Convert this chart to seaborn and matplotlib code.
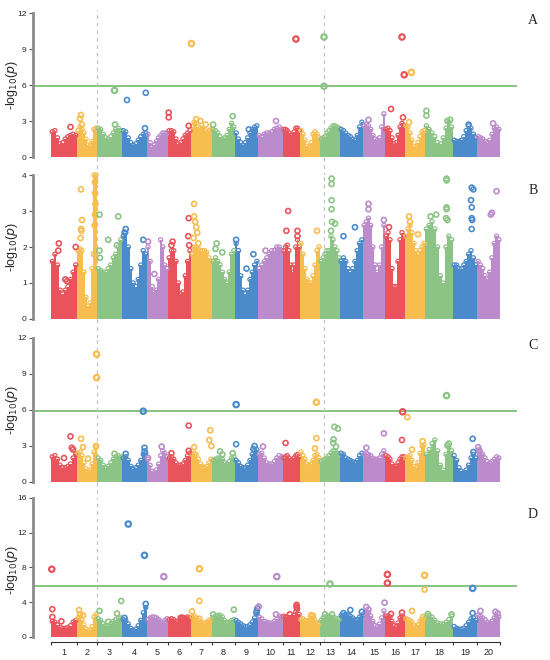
import numpy as np
import pandas as pd
import seaborn as sns
import matplotlib.pyplot as plt

sns.set_style('white')
plt.rcParams['font.family'] = ['Liberation Sans', 'DejaVu Sans']

# chromosome layout (relative lengths)
chroms = list(range(1, 21))
chrom_len = [26, 20, 25, 25, 21, 23, 21, 23, 23, 25, 17, 20, 20, 23, 22, 20, 20, 28, 24, 23]
colors5 = ['#e9545c', '#f7bd4f', '#8cc485', '#4c8bcb', '#bb8bcb']
threshold = 5.9
dashed_pos = [46.3, 273.3]

# top of the dense SNP cloud, 10 bins per chromosome
a_env = [
    [2.1, 2.2, 1.6, 1.1, 1.2, 1.5, 1.7, 1.8, 1.9, 1.8],
    [2.2, 2.5, 2.3, 2.0, 1.5, 1.0, 0.9, 1.3, 2.3, 2.4],
    [2.4, 2.3, 1.9, 1.6, 1.5, 1.7, 2.0, 2.3, 2.4, 2.2],
    [2.2, 2.1, 1.6, 1.2, 1.0, 1.1, 1.4, 1.7, 1.9, 2.0],
    [1.9, 1.2, 0.8, 1.0, 1.3, 1.6, 1.8, 2.0, 2.0, 2.0],
    [2.2, 2.2, 2.1, 1.5, 1.1, 1.2, 1.5, 1.8, 2.0, 2.2],
    [2.5, 2.9, 2.8, 2.5, 2.4, 2.3, 2.2, 2.0, 2.2, 2.3],
    [2.3, 2.2, 2.0, 1.7, 1.5, 1.6, 1.8, 2.3, 2.8, 2.5],
    [2.0, 1.5, 1.2, 1.0, 1.2, 1.6, 2.0, 2.3, 2.5, 2.6],
    [1.8, 1.7, 1.9, 2.0, 2.0, 2.1, 2.3, 2.4, 2.5, 2.3],
    [2.3, 2.3, 2.2, 2.0, 1.8, 1.8, 2.1, 2.4, 2.4, 2.2],
    [2.2, 1.9, 1.4, 0.9, 0.8, 1.2, 1.9, 2.1, 1.9, 1.6],
    [1.5, 1.6, 1.7, 2.0, 2.2, 2.4, 2.6, 2.6, 2.5, 2.4],
    [2.3, 2.2, 2.0, 1.8, 1.7, 1.5, 1.4, 1.8, 2.5, 2.9],
    [2.6, 2.7, 2.6, 2.3, 1.8, 1.5, 1.4, 1.6, 2.5, 3.6],
    [2.3, 2.4, 2.2, 1.6, 1.1, 1.2, 1.8, 2.5, 2.8, 2.6],
    [2.6, 2.5, 2.0, 1.4, 0.9, 0.8, 1.2, 1.7, 2.1, 2.2],
    [2.6, 2.3, 2.0, 1.7, 1.2, 1.1, 1.6, 2.4, 2.9, 2.5],
    [1.4, 1.3, 1.3, 1.4, 1.7, 2.2, 2.6, 2.4, 1.9, 1.6],
    [1.7, 1.6, 1.5, 1.3, 1.2, 1.4, 1.9, 2.4, 2.5, 2.3],
]
b_env = [
    [1.6, 1.8, 1.5, 0.8, 0.7, 0.8, 0.9, 1.1, 1.3, 1.5],
    [1.9, 1.95, 1.9, 1.3, 0.6, 0.35, 0.45, 1.4, 4.0, 4.0],
    [1.4, 1.35, 1.3, 1.3, 1.4, 1.5, 1.7, 1.8, 2.0, 2.2],
    [2.3, 2.4, 2.0, 1.4, 1.0, 0.9, 1.1, 1.5, 1.9, 1.8],
    [2.0, 1.6, 0.9, 0.75, 0.8, 1.1, 2.2, 2.0, 1.5, 1.4],
    [1.7, 1.9, 1.9, 1.6, 1.0, 0.7, 0.75, 1.2, 1.6, 1.9],
    [1.8, 2.0, 2.0, 1.95, 1.9, 1.9, 1.9, 1.85, 1.7, 1.6],
    [1.6, 1.7, 1.6, 1.5, 1.3, 1.1, 1.0, 1.3, 1.8, 1.9],
    [2.1, 1.9, 1.2, 0.8, 0.7, 0.8, 1.1, 1.3, 1.5, 1.6],
    [1.4, 1.5, 1.6, 1.7, 1.8, 1.9, 1.9, 2.0, 2.0, 1.9],
    [1.9, 2.0, 2.05, 1.9, 1.5, 1.3, 1.5, 2.0, 2.2, 2.0],
    [2.1, 1.8, 1.4, 1.1, 1.0, 1.0, 1.2, 1.5, 1.9, 2.0],
    [1.6, 1.7, 1.8, 1.9, 1.9, 2.3, 2.2, 2.0, 1.9, 1.7],
    [1.6, 1.7, 1.6, 1.4, 1.3, 1.4, 1.6, 1.9, 2.1, 2.2],
    [2.6, 2.7, 2.8, 2.6, 2.0, 1.5, 1.3, 1.5, 2.0, 2.6],
    [2.3, 2.4, 2.2, 1.4, 0.9, 0.9, 1.6, 2.2, 2.4, 2.3],
    [2.3, 2.5, 2.6, 2.4, 2.1, 1.9, 1.8, 1.9, 2.0, 2.1],
    [2.5, 2.6, 2.7, 2.5, 2.0, 1.2, 1.0, 2.0, 2.3, 2.2],
    [1.5, 1.5, 1.4, 1.4, 1.5, 1.6, 1.8, 1.9, 1.7, 1.5],
    [1.6, 1.5, 1.4, 1.2, 1.1, 1.3, 1.7, 2.1, 2.3, 2.2],
]
c_env = [
    [2.1, 2.2, 1.9, 1.4, 1.2, 1.2, 1.3, 1.5, 2.0, 2.3],
    [2.4, 2.5, 2.2, 1.6, 1.1, 0.9, 1.0, 1.5, 2.5, 2.9],
    [2.0, 1.8, 1.4, 1.2, 1.3, 1.6, 1.9, 2.1, 2.2, 2.1],
    [2.0, 2.1, 1.8, 1.3, 1.1, 1.2, 1.4, 1.8, 2.3, 2.4],
    [1.9, 1.4, 0.9, 0.8, 1.0, 1.5, 2.2, 2.6, 2.4, 2.1],
    [2.0, 2.1, 1.9, 1.6, 1.4, 1.4, 1.5, 1.8, 2.2, 2.4],
    [2.3, 2.4, 2.3, 1.9, 1.5, 1.3, 1.2, 1.3, 1.6, 1.9],
    [1.8, 1.9, 2.0, 2.0, 1.9, 1.6, 1.5, 1.7, 2.0, 2.1],
    [1.8, 1.6, 1.3, 1.2, 1.2, 1.4, 1.8, 2.3, 2.6, 2.7],
    [2.3, 2.4, 2.0, 1.6, 1.5, 1.5, 1.7, 2.0, 2.2, 2.1],
    [2.0, 2.1, 2.2, 2.0, 1.8, 1.8, 2.0, 2.2, 2.3, 2.1],
    [2.5, 2.2, 1.9, 1.5, 1.4, 1.5, 1.8, 2.2, 2.3, 2.0],
    [1.7, 1.8, 1.9, 2.0, 2.2, 2.4, 2.6, 2.6, 2.4, 2.3],
    [2.4, 2.3, 2.0, 1.9, 1.8, 1.7, 1.6, 1.8, 2.2, 2.4],
    [2.3, 2.4, 2.3, 2.2, 2.0, 1.9, 1.9, 2.0, 2.3, 2.6],
    [2.2, 2.1, 1.9, 1.5, 1.3, 1.3, 1.6, 1.9, 2.1, 2.1],
    [2.0, 2.1, 2.2, 1.8, 1.3, 1.2, 1.6, 2.4, 3.0, 3.1],
    [2.3, 2.7, 3.2, 3.5, 2.6, 1.4, 1.0, 2.3, 2.9, 2.6],
    [2.2, 1.8, 1.2, 0.9, 0.8, 1.0, 1.4, 2.0, 2.3, 2.0],
    [2.6, 2.5, 2.3, 2.0, 1.7, 1.6, 1.7, 1.9, 2.1, 2.0],
]
d_env = [
    [1.8, 1.7, 1.4, 1.1, 1.0, 1.0, 1.1, 1.3, 1.7, 1.9],
    [2.2, 2.3, 2.0, 1.4, 0.9, 0.7, 0.8, 1.2, 2.3, 2.6],
    [2.1, 1.9, 1.5, 1.3, 1.3, 1.5, 1.8, 2.0, 2.2, 2.2],
    [2.0, 1.9, 1.5, 1.0, 0.8, 0.9, 1.3, 1.9, 2.8, 3.4],
    [2.0, 2.2, 2.3, 2.3, 2.2, 2.0, 1.8, 1.6, 1.9, 2.1],
    [2.0, 2.1, 2.0, 1.8, 1.7, 1.8, 2.0, 2.2, 2.3, 2.2],
    [2.3, 2.4, 2.2, 1.9, 1.7, 1.6, 1.6, 1.7, 1.9, 2.0],
    [2.2, 2.4, 2.5, 2.5, 2.3, 1.9, 1.6, 1.7, 1.9, 2.0],
    [1.9, 1.7, 1.5, 1.3, 1.2, 1.2, 1.4, 1.7, 2.2, 2.6],
    [2.3, 2.1, 1.8, 1.7, 1.6, 1.6, 1.8, 2.1, 2.4, 2.3],
    [2.4, 2.3, 2.3, 2.2, 2.2, 2.3, 2.5, 2.9, 3.2, 2.6],
    [2.0, 2.1, 1.9, 1.8, 1.9, 2.1, 2.2, 1.9, 1.6, 1.5],
    [1.9, 2.2, 2.3, 2.4, 2.3, 2.3, 2.2, 2.2, 2.1, 2.0],
    [2.5, 2.5, 2.6, 2.5, 2.4, 2.2, 2.0, 2.0, 2.3, 2.5],
    [2.7, 2.9, 2.8, 2.4, 1.8, 1.3, 1.2, 1.5, 2.2, 3.0],
    [2.4, 2.4, 2.3, 1.8, 1.3, 1.2, 1.6, 2.2, 2.4, 2.2],
    [2.1, 2.0, 1.9, 1.7, 1.3, 1.2, 1.4, 1.8, 2.0, 2.1],
    [2.4, 2.5, 2.3, 1.9, 1.6, 1.5, 1.5, 1.7, 2.0, 2.4],
    [1.2, 1.0, 0.9, 0.9, 1.0, 1.3, 1.7, 2.1, 2.2, 1.9],
    [2.5, 2.4, 2.2, 2.0, 1.7, 1.6, 1.8, 2.2, 2.4, 2.3],
]

# isolated SNPs: (chromosome, position within chromosome 0-1, -log10 p)
a_hits = [(1, 0.75, 2.5), (2, 0.15, 3.2), (2, 0.2, 3.5), (2, 0.25, 2.7), (3, 0.7, 5.55),
          (3, 0.72, 2.7), (4, 0.2, 4.75), (4, 0.95, 5.35), (4, 0.92, 2.4), (6, 0.03, 3.7),
          (6, 0.03, 3.3), (6, 0.9, 2.6), (7, 0.02, 9.45), (7, 0.25, 3.15), (7, 0.45, 3.0),
          (7, 0.7, 2.7), (8, 0.05, 2.7), (8, 0.9, 3.4), (9, 0.6, 2.3), (10, 0.72, 3.0),
          (11, 0.76, 9.83), (13, 0.2, 10.0), (13, 0.2, 5.9), (15, 0.25, 3.1), (16, 0.3, 4.0),
          (16, 0.9, 3.3), (16, 0.85, 10.0), (16, 0.96, 6.85), (17, 0.32, 7.05), (17, 0.2, 2.9),
          (18, 0.05, 3.85), (18, 0.05, 3.45), (18, 0.9, 3.1), (18, 0.8, 3.0), (19, 0.65, 2.7),
          (20, 0.7, 2.8)]
b_hits = [(1, 0.3, 2.1), (1, 0.28, 1.9), (1, 0.55, 1.1), (1, 0.62, 1.05), (1, 0.95, 2.0),
          (2, 0.2, 3.6), (2, 0.25, 2.75), (2, 0.2, 2.5), (2, 0.22, 2.45), (2, 0.18, 2.25),
          (2, 0.9, 3.8), (2, 0.9, 3.5), (2, 0.92, 3.2), (2, 0.9, 2.9), (2, 0.88, 2.6),
          (2, 0.85, 1.8), (3, 0.1, 2.9), (3, 0.1, 1.9), (3, 0.12, 1.7), (3, 0.45, 2.2),
          (3, 0.85, 2.85), (3, 0.8, 2.05), (4, 0.15, 2.5), (4, 0.1, 2.4), (4, 0.85, 2.2),
          (5, 0.05, 2.15), (5, 0.35, 1.25), (6, 0.2, 2.15), (6, 0.15, 2.05), (6, 0.9, 2.8),
          (6, 0.88, 2.3), (6, 0.92, 2.05), (7, 0.15, 3.2), (7, 0.15, 2.85), (7, 0.2, 2.7),
          (7, 0.25, 2.55), (7, 0.3, 2.4), (7, 0.12, 2.25), (7, 0.35, 2.1), (8, 0.2, 2.1),
          (8, 0.15, 1.95), (8, 0.45, 1.85), (9, 0.05, 2.2), (9, 0.8, 1.8), (9, 0.5, 1.4),
          (10, 0.3, 1.9), (11, 0.3, 3.0), (11, 0.2, 2.45), (11, 0.85, 2.45), (11, 0.85, 2.3),
          (12, 0.85, 2.45), (13, 0.58, 3.9), (13, 0.58, 3.75), (13, 0.58, 3.3), (13, 0.58, 3.05),
          (13, 0.6, 2.7), (13, 0.55, 2.45), (13, 0.75, 2.65), (14, 0.15, 2.3), (14, 0.65, 2.55),
          (15, 0.25, 3.2), (15, 0.25, 3.05), (15, 0.95, 2.75), (16, 0.2, 2.55), (17, 0.2, 2.85),
          (17, 0.25, 2.7), (17, 0.65, 2.35), (18, 0.77, 3.9), (18, 0.77, 3.85), (18, 0.77, 3.1),
          (18, 0.77, 3.05), (18, 0.75, 2.8), (18, 0.8, 2.75), (18, 0.2, 2.85), (18, 0.4, 2.9),
          (19, 0.78, 3.65), (19, 0.85, 3.6), (19, 0.75, 3.3), (19, 0.78, 3.1), (19, 0.78, 2.8),
          (19, 0.8, 2.75), (19, 0.78, 2.5), (20, 0.85, 3.55), (20, 0.65, 2.95), (20, 0.6, 2.9)]
c_hits = [(1, 0.75, 3.8), (1, 0.8, 2.85), (1, 0.85, 2.7), (1, 0.5, 2.0), (2, 0.98, 10.65),
          (2, 0.98, 8.7), (2, 0.2, 3.6), (2, 0.3, 2.9), (2, 0.55, 1.95), (2, 0.95, 3.0),
          (3, 0.7, 2.35), (4, 0.85, 5.9), (4, 0.9, 2.85), (4, 0.9, 2.55), (4, 0.15, 2.35),
          (5, 0.7, 2.95), (5, 0.05, 2.0), (6, 0.9, 4.7), (6, 0.15, 2.4), (6, 0.9, 2.6),
          (7, 0.92, 4.3), (7, 0.87, 3.5), (7, 0.97, 3.0), (7, 0.15, 2.9), (8, 0.35, 2.55),
          (8, 0.45, 2.3), (8, 0.9, 2.4), (9, 0.05, 6.45), (9, 0.05, 3.15), (9, 0.85, 3.0),
          (9, 0.8, 2.75), (10, 0.2, 2.95), (11, 0.15, 3.25), (12, 0.82, 6.65), (12, 0.82, 3.65),
          (12, 0.75, 2.8), (13, 0.72, 4.6), (13, 0.9, 4.45), (13, 0.68, 3.55), (13, 0.66, 3.25),
          (13, 0.8, 2.95), (15, 0.15, 2.85), (15, 0.95, 4.05), (16, 0.88, 5.85), (16, 0.85, 3.5),
          (17, 0.12, 5.4), (17, 0.35, 2.7), (17, 0.88, 3.4), (18, 0.77, 7.2), (18, 0.85, 3.2),
          (18, 0.8, 3.05), (19, 0.82, 3.6), (19, 0.85, 2.5), (20, 0.05, 2.9), (20, 0.1, 2.65)]
d_hits = [(1, 0.03, 7.8), (1, 0.05, 3.2), (1, 0.05, 2.3), (1, 0.4, 1.8), (2, 0.1, 3.1),
          (2, 0.15, 2.6), (2, 0.3, 2.5), (3, 0.1, 3.0), (3, 0.8, 2.7), (3, 0.45, 1.75),
          (3, 0.97, 4.15), (4, 0.25, 13.0), (4, 0.9, 9.4), (4, 0.95, 3.8), (4, 0.1, 2.2),
          (5, 0.8, 6.95), (6, 0.55, 2.2), (6, 0.6, 2.2), (6, 0.65, 2.2), (7, 0.4, 7.85),
          (7, 0.4, 4.15), (7, 0.05, 2.95), (7, 0.4, 2.1), (8, 0.05, 2.6), (8, 0.95, 3.15),
          (9, 0.95, 3.0), (9, 0.93, 2.8), (9, 0.97, 3.3), (10, 0.03, 3.5), (10, 0.72, 2.6),
          (10, 0.75, 6.95), (11, 0.8, 3.7), (11, 0.8, 3.5), (11, 0.82, 3.3), (11, 0.4, 2.6),
          (12, 0.55, 2.5), (12, 0.65, 2.45), (13, 0.5, 6.1), (13, 0.25, 2.6), (13, 0.6, 2.6),
          (14, 0.15, 2.75), (14, 0.45, 3.1), (14, 0.95, 2.9), (15, 0.15, 3.45), (15, 0.25, 3.15),
          (15, 0.98, 3.95), (16, 0.12, 7.2), (16, 0.12, 6.2), (16, 0.3, 2.65), (16, 0.85, 2.8),
          (17, 0.98, 7.1), (17, 0.98, 5.45), (17, 0.35, 3.0), (17, 0.9, 2.3), (18, 0.1, 2.65),
          (18, 0.95, 2.6), (19, 0.82, 5.6), (19, 0.82, 2.75), (20, 0.15, 3.0), (20, 0.8, 2.9),
          (20, 0.9, 2.7)]

starts = np.cumsum([0] + chrom_len[:-1])
total = sum(chrom_len)
centers = starts + np.array(chrom_len) / 2
chrom_color = {c: colors5[(c - 1) % 5] for c in chroms}


def env_frame(env):
    rows = []
    for c, vals in zip(chroms, env):
        w = chrom_len[c - 1] / len(vals)
        for i, v in enumerate(vals):
            rows.append((c, starts[c - 1] + (i + 0.5) * w, v, w))
    return pd.DataFrame(rows, columns=['chrom', 'pos', 'logp', 'w'])


def hit_frame(hits):
    df = pd.DataFrame(hits, columns=['chrom', 'frac', 'logp'])
    df['pos'] = [starts[c - 1] + f * chrom_len[c - 1] for c, f in zip(df.chrom, df.frac)]
    return df


def rings(ax, df, s, lw):
    if len(df) == 0:
        return
    sns.scatterplot(data=df, x='pos', y='logp', hue='chrom', palette=chrom_color,
                    s=s, linewidth=lw, legend=False, ax=ax, zorder=3, clip_on=False)
    coll = ax.collections[-1]
    coll.set_edgecolors(coll.get_facecolors())
    coll.set_facecolors('none')


panels = [
    ('A', a_env, a_hits, [0, 3, 6, 9, 12], 157, 0.946),
    ('B', b_env, b_hits, [0, 1, 2, 3, 4], 319, 0.89),
    ('C', c_env, c_hits, [0, 3, 6, 9, 12], 482, 0.951),
    ('D', d_env, d_hits, [0, 4, 8, 12, 16], 642, 0.882),
]

fig = plt.figure(figsize=(5.5, 6.6), dpi=100)
for k, (letter, env, hits, yt, bottom_px, ly) in enumerate(panels):
    ax = fig.add_axes([33 / 550, (660 - bottom_px) / 660, 484 / 550, 144 / 660])
    env_df = env_frame(env)
    hit_df = hit_frame(hits)
    big = hit_df[hit_df.logp > 5.5]
    small = hit_df[hit_df.logp <= 5.5]

    ax.bar(env_df.pos, env_df.logp, width=env_df.w * 1.05,
           color=[chrom_color[c] for c in env_df.chrom], linewidth=0, zorder=2)
    rings(ax, env_df, 9, 0.9)
    rings(ax, small, 13, 1.2)
    rings(ax, big, 15, 1.6)

    if threshold < yt[-1]:
        ax.axhline(threshold, color='#66b55e', lw=1.1, zorder=1)

    y0 = -0.58 if letter == 'D' else 0
    ax.set_ylim(y0, yt[-1])
    ax.set_xlim(-18, 466)
    for xd in dashed_pos:
        lo = 0 if letter == 'D' else -0.13
        hi = 1.02 if letter == 'A' else 1.0
        ax.axvline(xd, lo, hi, color='#c4c4c4', lw=0.9, ls=(0, (3, 3)),
                   clip_on=False, zorder=1)

    ax.set_yticks(yt)
    ax.set_yticklabels([str(v) for v in yt])
    for side in ['top', 'right']:
        ax.spines[side].set_visible(False)
    ax.spines['left'].set_bounds(0, yt[-1])
    ax.spines['left'].set_color('#8c8c8c')
    ax.spines['left'].set_linewidth(2)
    ax.tick_params(axis='y', left=True, length=3, width=0.8, color='#555555',
                   labelsize=6, pad=1.5)
    ax.set_ylabel(r'-log$_{10}$($\it{p}$)', fontsize=9)
    ax.yaxis.set_label_coords(-0.027, 0.5)
    ax.set_xlabel('')

    if letter == 'D':
        ax.spines['bottom'].set_bounds(0, total)
        ax.spines['bottom'].set_color('#333333')
        ax.spines['bottom'].set_linewidth(0.8)
        ax.set_xticks(list(starts) + [total])
        ax.set_xticklabels([])
        ax.set_xticks(centers, minor=True)
        ax.set_xticklabels([str(c) for c in chroms], minor=True)
        ax.tick_params(axis='x', which='major', bottom=True, length=2.5, width=0.8,
                       color='#333333')
        ax.tick_params(axis='x', which='minor', bottom=True, length=0, labelsize=6.5, pad=4)
    else:
        ax.spines['bottom'].set_visible(False)
        ax.set_xticks([])

    ax.text(1.033, ly, letter, transform=ax.transAxes, fontsize=10,
            family='Liberation Serif', ha='center', va='center')

fig.savefig('out.png', dpi=100, facecolor='white')
